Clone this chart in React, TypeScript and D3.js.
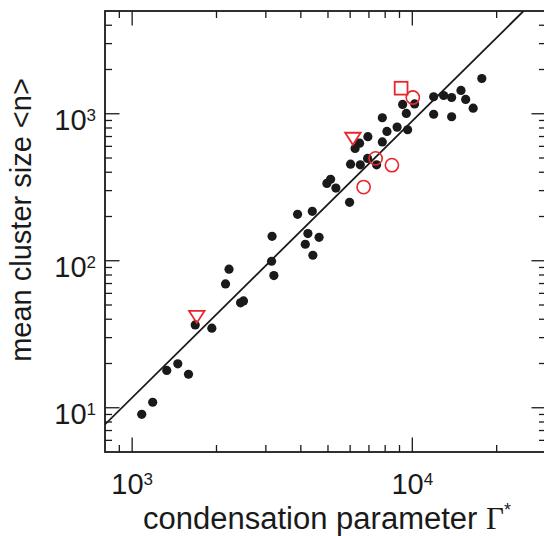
import React from "react";
import * as d3 from "d3";

// Black data points: condensation parameter Γ* vs mean cluster size <n>
const gammaBlack = [1082, 1184, 1329, 1455, 1589, 1679, 1925, 2154, 2217, 2437, 2497, 3145, 3205, 3158, 3894, 4395, 4238, 4149, 4647, 4416, 4955, 5108, 5335, 5971, 6020, 6522, 6923, 7456, 6248, 6484, 6940, 7815, 8116, 8826, 9621, 7815, 9234, 9519, 10190, 11916, 11916, 12935, 13812, 13812, 14916, 15503, 16488, 17706];
const sizeBlack = [9.02, 10.9, 17.95, 19.9, 16.9, 36.6, 34.8, 69.6, 87.6, 51.7, 53.3, 99.2, 79.3, 146.7, 207, 217, 153, 129.5, 144.4, 109, 336, 358, 312, 249.7, 454, 449, 497, 449, 581, 631, 698, 643, 758, 811, 778, 939, 1157, 1005, 1166, 1305, 992, 1331, 1290, 954, 1440, 1251, 1091, 1737];

// Red open markers
const gammaTriangle = [1701, 6136];
const sizeTriangle = [41.5, 676];
const gammaSquare = [9120];
const sizeSquare = [1492];
const gammaCircle = [10041, 7394, 8455, 6701];
const sizeCircle = [1290, 497, 447, 317];

// Fit line endpoints
const fitGamma = [800, 25000];
const fitSize = [7.7, 5020];

const xMajor = [1000, 10000];
const xMajorExp = ["3", "4"];
const yMajor = [10, 100, 1000];
const yMajorExp = ["1", "2", "3"];

const W = 544;
const H = 536;
const L = 105, R = 546, T = 11, B = 452;
const RED = "#e8262c";
const FONT = "'Liberation Sans', Arial, Helvetica, sans-serif";

export default function App() {
  const x = d3.scaleLog().domain([800, 30000]).range([L, R]);
  const y = d3.scaleLog().domain([5, 5000]).range([B, T]);

  const xMinor: number[] = [];
  for (const dec of [100, 1000, 10000]) {
    for (let k = 2; k <= 9; k++) {
      const v = k * dec;
      if (v > 800 && v < 30000 && !xMajor.includes(v)) xMinor.push(v);
    }
  }
  const yMinor: number[] = [];
  for (const dec of [1, 10, 100, 1000]) {
    for (let k = 2; k <= 9; k++) {
      const v = k * dec;
      if (v > 5 && v < 5000 && !yMajor.includes(v)) yMinor.push(v);
    }
  }
  const MAJ = 14.5, MIN = 7;

  const line = d3
    .line<number>()
    .x((i) => x(fitGamma[i]))
    .y((i) => y(fitSize[i]));

  const triPath = (cx: number, cy: number) => {
    const w = 15.5, h = 12;
    return `M${cx - w / 2},${cy - h / 2}L${cx + w / 2},${cy - h / 2}L${cx},${cy + h / 2}Z`;
  };

  return (
    <svg
      width={W}
      height={H}
      style={{ position: "absolute", left: 0, top: 0, background: "#fff" }}
      fontFamily={FONT}
    >
      <defs>
        <clipPath id="plotclip">
          <rect x={L} y={T} width={R - L} height={B - T} />
        </clipPath>
      </defs>

      {/* ticks */}
      <g stroke="#1a1a1a" strokeWidth={1.3}>
        {xMajor.map((v) => (
          <g key={"xM" + v}>
            <line x1={x(v)} x2={x(v)} y1={B} y2={B - MAJ} />
            <line x1={x(v)} x2={x(v)} y1={T} y2={T + MAJ} />
          </g>
        ))}
        {xMinor.map((v) => (
          <g key={"xm" + v}>
            <line x1={x(v)} x2={x(v)} y1={B} y2={B - MIN} />
            <line x1={x(v)} x2={x(v)} y1={T} y2={T + MIN} />
          </g>
        ))}
        {yMajor.map((v) => (
          <g key={"yM" + v}>
            <line x1={L} x2={L + MAJ} y1={y(v)} y2={y(v)} />
            <line x1={R} x2={R - MAJ} y1={y(v)} y2={y(v)} />
          </g>
        ))}
        {yMinor.map((v) => (
          <g key={"ym" + v}>
            <line x1={L} x2={L + MIN} y1={y(v)} y2={y(v)} />
            <line x1={R} x2={R - MIN} y1={y(v)} y2={y(v)} />
          </g>
        ))}
      </g>

      {/* frame */}
      <rect x={L} y={T} width={R - L} height={B - T} fill="none" stroke="#1a1a1a" strokeWidth={1.8} />

      <g clipPath="url(#plotclip)">
        <path d={line([0, 1]) || ""} fill="none" stroke="#1a1a1a" strokeWidth={1.8} />

        {gammaBlack.map((g, i) => (
          <circle key={"b" + i} cx={x(g)} cy={y(sizeBlack[i])} r={4.6} fill="#1a1a1a" />
        ))}

        {gammaCircle.map((g, i) => (
          <circle key={"c" + i} cx={x(g)} cy={y(sizeCircle[i])} r={6.6} fill="none" stroke={RED} strokeWidth={1.6} />
        ))}
        {gammaSquare.map((g, i) => (
          <rect key={"s" + i} x={x(g) - 6.4} y={y(sizeSquare[i]) - 6.4} width={12.8} height={12.8} fill="none" stroke={RED} strokeWidth={1.8} />
        ))}
        {gammaTriangle.map((g, i) => (
          <path key={"t" + i} d={triPath(x(g), y(sizeTriangle[i]))} fill="none" stroke={RED} strokeWidth={1.8} strokeLinejoin="miter" />
        ))}
      </g>

      {/* x tick labels */}
      {xMajor.map((v, i) => (
        <text key={"xl" + v} x={x(v)} y={494.3} textAnchor="middle" fontSize={29} fill="#1a1a1a">
          10
          <tspan fontSize={17} dy={-9.6}>{xMajorExp[i]}</tspan>
        </text>
      ))}

      {/* y tick labels */}
      {yMajor.map((v, i) => (
        <text key={"yl" + v} x={96} y={y(v) + 16.6} textAnchor="end" fontSize={29} fill="#1a1a1a">
          10
          <tspan fontSize={17} dy={-9.6}>{yMajorExp[i]}</tspan>
        </text>
      ))}

      {/* axis titles */}
      <text x={327} y={529} textAnchor="middle" fontSize={31} fill="#1a1a1a">
        condensation parameter{" "}
        <tspan fontFamily="'Liberation Serif', 'Times New Roman', serif">Γ</tspan>
        <tspan fontSize={18} dy={-13}>*</tspan>
      </text>
      <text
        transform="translate(31,220) rotate(-90)"
        textAnchor="middle"
        fontSize={29}
        fill="#1a1a1a"
      >
        mean cluster size &lt;n&gt;
      </text>
    </svg>
  );
}
